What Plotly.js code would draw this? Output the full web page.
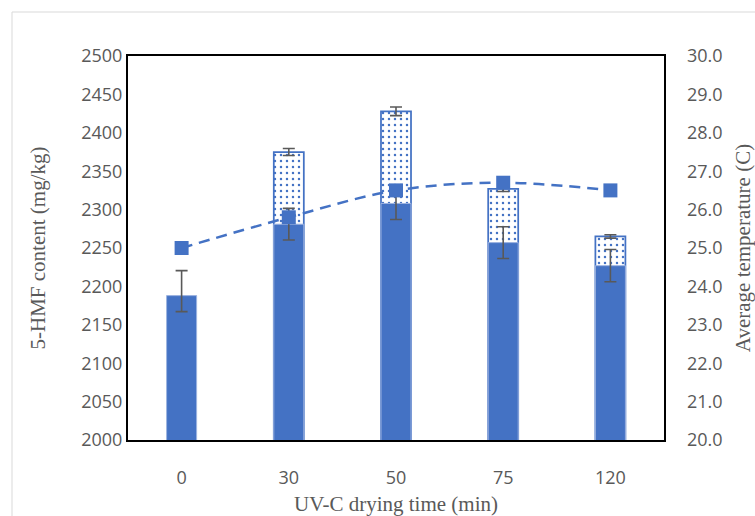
<!DOCTYPE html>
<html><head><meta charset="utf-8">
<script src="https://cdn.plot.ly/plotly-3.0.1.min.js"></script>
<style>html,body{margin:0;padding:0;background:#fff}#chart{width:755px;height:516px}</style>
</head><body><div id="chart"></div>
<script>
// ---- data ----
const categories = ['0', '30', '50', '75', '120'];
const hmfBase = [2188, 2281, 2308, 2257, 2227];
const hmfBaseErrPlus = [32.6, 20.6, 20.8, 20.6, 21.0];
const hmfBaseErrMinus = [20.8, 20.6, 20.8, 20.6, 21.0];
const hmfIncrease = [null, 94, 120, 70, 38];
const hmfTotalErr = [0, 4.6, 5.6, 3.5, 2.2];
const avgTemp = [25.0, 25.8, 26.5, 26.7, 26.5];
const leftTickVals = [2000, 2050, 2100, 2150, 2200, 2250, 2300, 2350, 2400, 2450, 2500];
const rightTickVals = [20, 21, 22, 23, 24, 25, 26, 27, 28, 29, 30];
const rightTickText = ['20.0','21.0','22.0','23.0','24.0','25.0','26.0','27.0','28.0','29.0','30.0'];

const hmfTotal = hmfBase.map((b, i) => hmfIncrease[i] == null ? null : b + hmfIncrease[i]);

const blue = '#4472C4';
const grey = '#595959';
const tickFont = {family: 'Open Sans, sans-serif', size: 18, color: grey};
const titleFont = {family: 'Liberation Serif, Times New Roman, serif', size: 21, color: grey};

const traces = [
  {
    type: 'bar', x: categories, y: hmfTotal, yaxis: 'y', showlegend: false,
    marker: {color: 'white', line: {color: blue, width: 1.75},
      pattern: {shape: '.', fgcolor: blue, bgcolor: 'white', size: 6, solidity: 0.13}},
    error_y: {type: 'data', array: hmfTotalErr, color: grey, thickness: 1.6, width: 6}
  },
  {
    type: 'bar', x: categories, y: hmfBase, yaxis: 'y', showlegend: false,
    marker: {color: blue, line: {color: '#9DB3E0', width: 1}},
    error_y: {type: 'data', symmetric: false, array: hmfBaseErrPlus, arrayminus: hmfBaseErrMinus,
      color: grey, thickness: 1.6, width: 6}
  },
  {
    type: 'scatter', mode: 'lines+markers', x: categories, y: avgTemp, yaxis: 'y2', showlegend: false,
    line: {color: blue, width: 2.5, dash: '11px,7px', shape: 'spline', smoothing: 1},
    marker: {symbol: 'square', size: 14, color: blue}
  }
];

const L = 128, R = 91, T = 56, B = 76, W = 755, H = 516;
const pw = W - L - R, ph = H - T - B;
const bx = (12 - L) / pw, by = (H - B - 12) / ph;

const layout = {
  width: W, height: H,
  margin: {l: L, r: R, t: T, b: B, pad: 0},
  paper_bgcolor: 'white', plot_bgcolor: 'white',
  barmode: 'overlay', bargap: 0.72,
  showlegend: false,
  xaxis: {
    type: 'category', tickfont: tickFont, showline: true, linecolor: '#000', linewidth: 2,
    mirror: true, showgrid: false, ticks: '', ticklabelstandoff: 20,
    title: {text: 'UV-C drying time (min)', font: titleFont, standoff: 16}
  },
  yaxis: {
    range: [2000, 2500], tickvals: leftTickVals, tickfont: tickFont,
    showline: true, linecolor: '#000', linewidth: 2, mirror: true, showgrid: false,
    zeroline: false, ticks: '',
    title: {text: '5-HMF content (mg/kg)', font: titleFont, standoff: 30}
  },
  yaxis2: {
    overlaying: 'y', side: 'right', range: [20, 30], tickvals: rightTickVals, ticktext: rightTickText,
    tickfont: tickFont, showline: false, showgrid: false, zeroline: false, ticks: '',
    ticklabelstandoff: 22,
    title: {text: 'Average temperature (C)', font: titleFont, standoff: 20}
  },
  shapes: [
    {type: 'line', xref: 'paper', yref: 'paper', x0: bx, x1: bx, y0: -0.5, y1: by,
      line: {color: '#D9D9D9', width: 1}},
    {type: 'line', xref: 'paper', yref: 'paper', x0: bx, x1: 1.5, y0: by, y1: by,
      line: {color: '#D9D9D9', width: 1}}
  ]
};

Plotly.newPlot('chart', traces, layout, {staticPlot: true, displayModeBar: false});
</script>
</body></html>
